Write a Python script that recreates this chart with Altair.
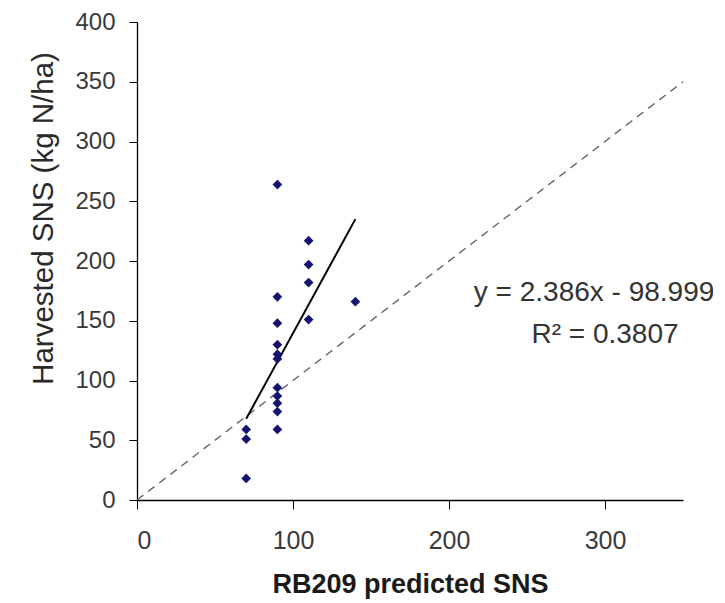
import altair as alt
import pandas as pd

# Observed data: RB209 predicted SNS vs harvested SNS
pred_sns = [70, 70, 70,
            90, 90, 90, 90, 90, 90, 90, 90, 90, 90, 90,
            110, 110, 110, 110,
            140]
harv_sns = [18, 51, 59,
            264, 170, 148, 130, 122, 118, 94, 87, 81, 74, 59,
            217, 197, 182, 151,
            166]

# 1:1 line and fitted trend line end points
one_to_one_x = [0, 350]
one_to_one_y = [0, 350]
slope = 2.386
intercept = -98.999
trend_x = [70, 140]
trend_y = [slope * v + intercept for v in trend_x]

# Equation annotation
eq_text = ["y = 2.386x - 98.999", "R\u00b2 = 0.3807"]
eq_x = [293, 300]
eq_y = [173, 138]

pts = pd.DataFrame({"x": pred_sns, "y": harv_sns})
diag = pd.DataFrame({"x": one_to_one_x, "y": one_to_one_y})
trend = pd.DataFrame({"x": trend_x, "y": trend_y})
ann = pd.DataFrame({"x": eq_x, "y": eq_y, "t": eq_text})

FONT = "Liberation Sans"

xscale = alt.Scale(domain=[0, 350], nice=False)
yscale = alt.Scale(domain=[0, 400], nice=False)

xaxis = alt.Axis(values=[0, 100, 200, 300], title="RB209 predicted SNS",
                 grid=False, domainColor="black", tickColor="black", tickSize=9,
                 labelFont=FONT, labelFontSize=25, labelColor="#3a3a3a", labelPadding=19,
                 titleFont=FONT, titleFontSize=27, titleFontWeight="bold", titleColor="#1a1a1a",
                 titlePadding=18, domainWidth=1.3)
yaxis = alt.Axis(values=list(range(0, 401, 50)), title="Harvested SNS (kg N/ha)",
                 grid=False, domainColor="black", tickColor="black", tickSize=8,
                 labelFont=FONT, labelFontSize=24, labelColor="#3a3a3a", labelPadding=14,
                 titleFont=FONT, titleFontSize=29.5, titleFontWeight="normal", titleColor="#2a2a2a",
                 titleX=-94, titleY=196, titleBaseline="middle", titleAlign="center",
                 titleAngle=270, domainWidth=1.3)

diag_layer = alt.Chart(diag).mark_line(color="#666666", strokeDash=[8, 6], strokeWidth=1.4).encode(
    x=alt.X("x:Q", scale=xscale, axis=xaxis), y=alt.Y("y:Q", scale=yscale, axis=yaxis))
trend_layer = alt.Chart(trend).mark_line(color="black", strokeWidth=2).encode(
    x=alt.X("x:Q", scale=xscale), y=alt.Y("y:Q", scale=yscale))
pts_layer = alt.Chart(pts).mark_point(shape="diamond", filled=True, size=95,
                                      color="#141470", opacity=1).encode(
    x=alt.X("x:Q", scale=xscale), y=alt.Y("y:Q", scale=yscale))
ann_layer = alt.Chart(ann).mark_text(font=FONT, fontSize=28, color="#333333",
                                     align="center", baseline="middle").encode(
    x=alt.X("x:Q", scale=xscale), y=alt.Y("y:Q", scale=yscale), text="t:N")

chart = alt.layer(diag_layer, trend_layer, pts_layer, ann_layer).properties(
    width=546, height=478,
    autosize=alt.AutoSizeParams(type="none"),
    padding={"left": 129, "top": 14, "right": 30, "bottom": 102},
    background="white",
).configure_view(stroke=None)

chart.save("out.html", embed_options={"renderer": "svg", "actions": False})
